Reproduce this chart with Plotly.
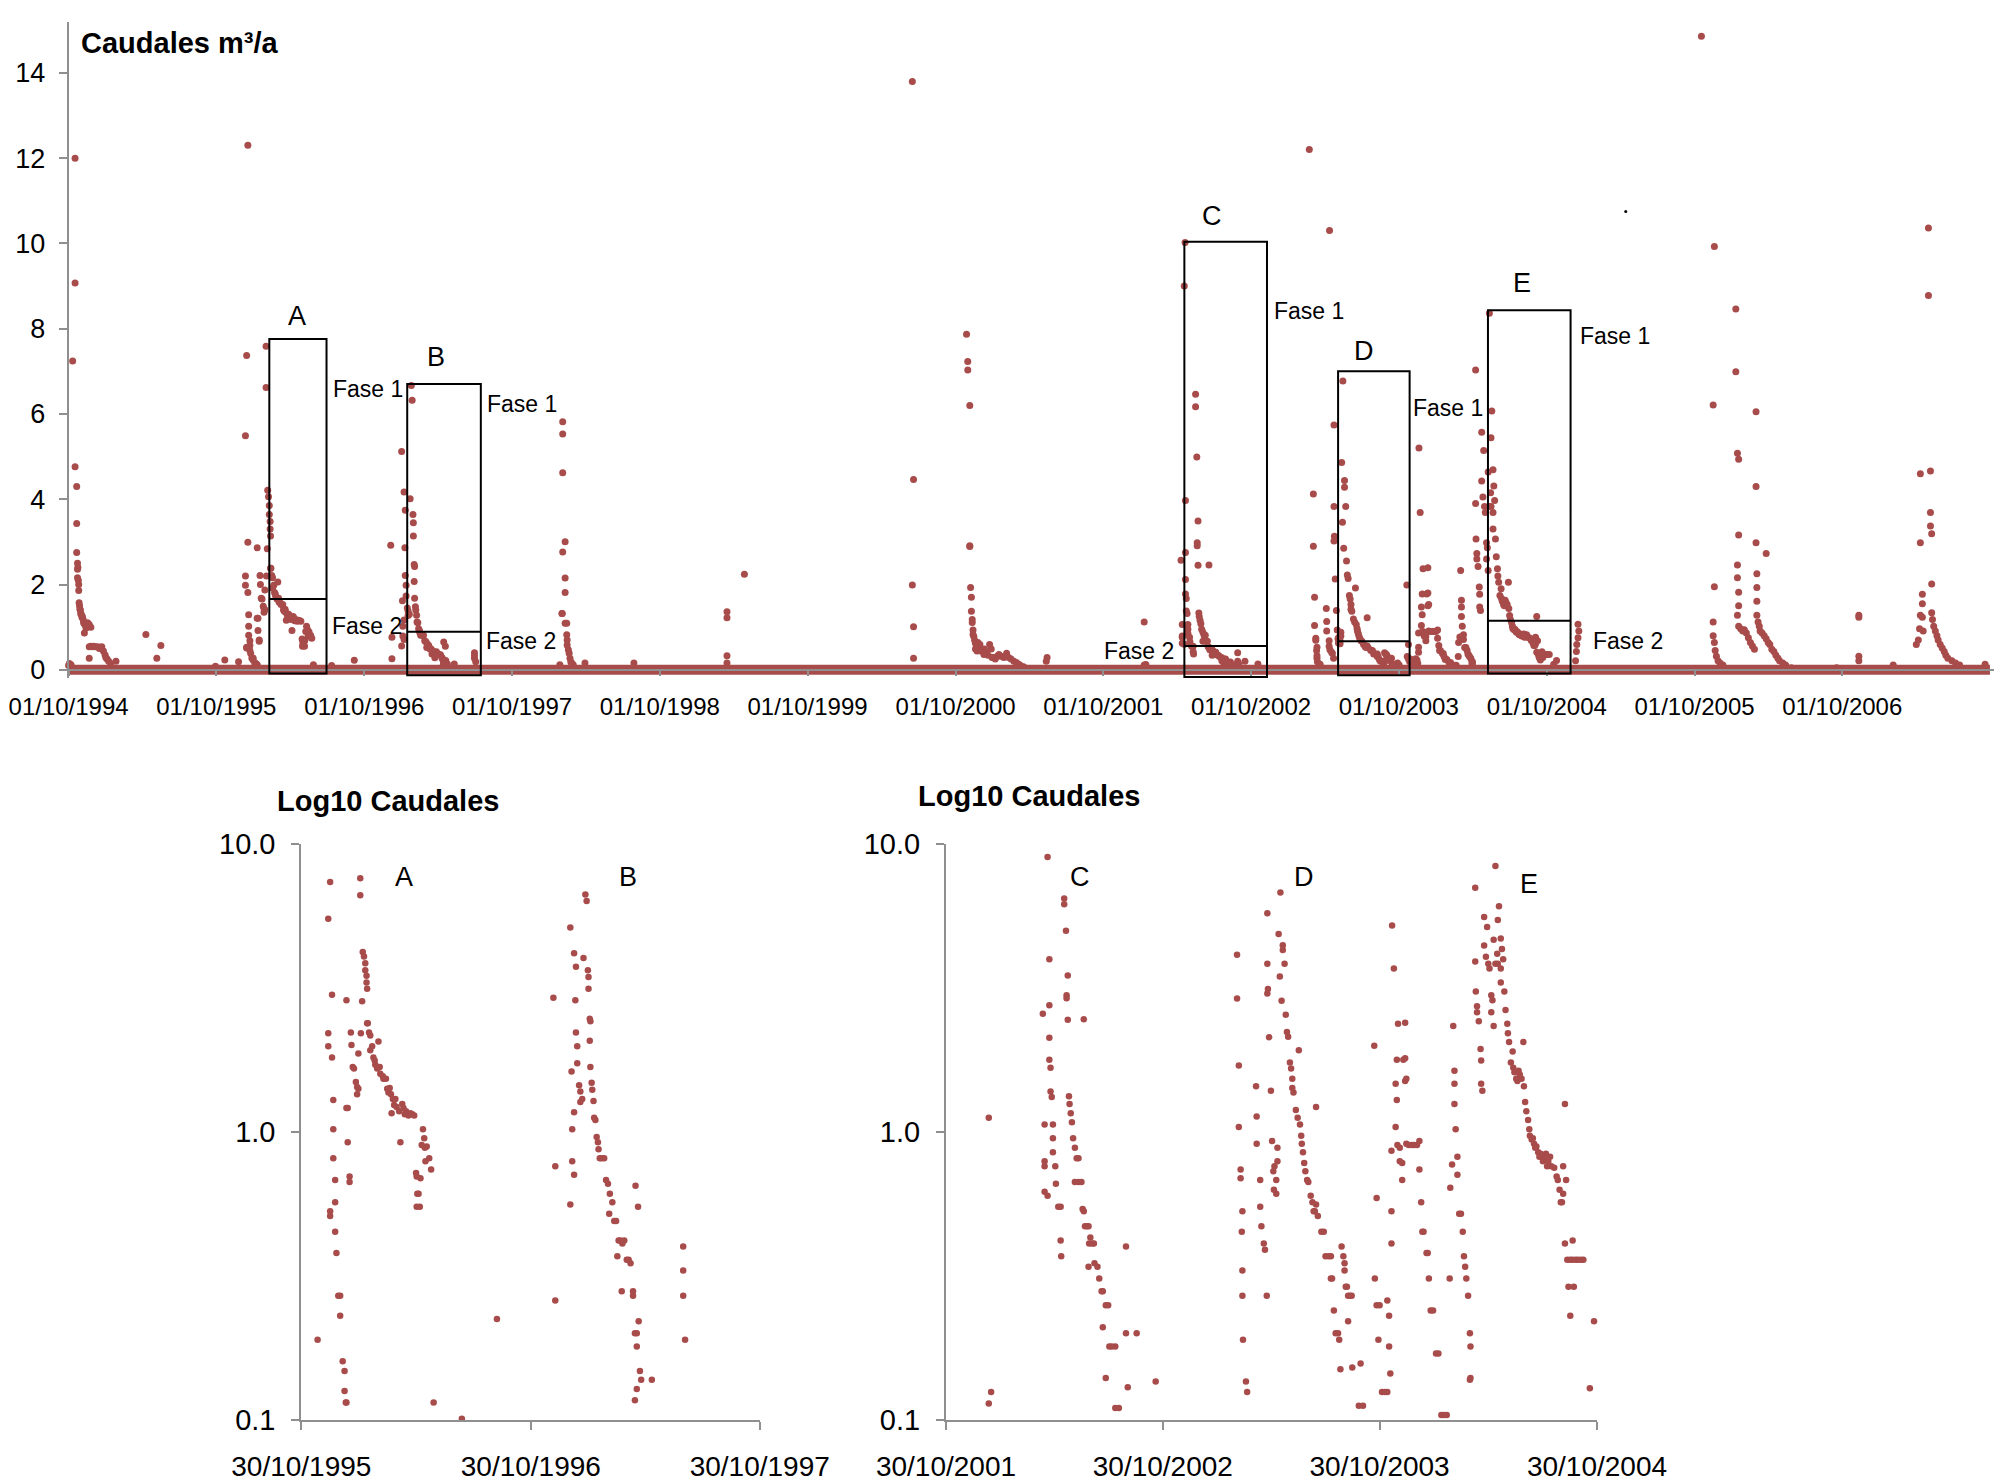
############################################################
# Caudales diarios 1994-2007 con recesiones A-E
############################################################
import math
import pandas as pd
import plotly.graph_objects as go

"""
SECTION 0: DATA (read from the figure)
days = days after the base date of each block, q = caudal
"""
# 1994-95 flood (base 1994-10-01)
ev94_days = [0, 2, 4, 6, 8, 10, 16, 16, 16, 20, 20, 20, 22, 22, 22, 23, 24, 25, 25, 26,
             27, 28, 29, 30, 31, 33, 34, 36, 37, 39, 39, 41, 43, 45, 47, 49, 51, 51, 55,
             51, 55, 59, 62, 66, 72, 76, 82, 86, 90, 92, 95, 99, 104, 117, 191, 218, 228,
             363, 386]
ev94_q = [0.10, 0.15, 0.08, 0.12, 0.06, 7.24, 12.0, 9.07, 4.76, 4.30, 3.43, 2.75, 2.50, 2.36,
          2.16, 2.40, 2.10, 2.00, 1.86, 1.57, 1.50, 1.42, 1.40, 1.32, 1.30, 1.23, 1.25, 1.18,
          1.10, 1.08, 0.86, 1.05, 0.98, 1.00, 1.10, 1.05, 1.06, 0.27, 1.00, 0.54, 0.55, 0.54,
          0.55, 0.54, 0.54, 0.50, 0.54, 0.44, 0.35, 0.29, 0.25, 0.20, 0.15, 0.20, 0.83, 0.27,
          0.57, 0.08, 0.23]

# events A and B (base 1995-10-30), also used by the lower-left panel
ab_days = [26, 46, 43, 49, 43, 43, 49, 51, 51, 51, 54, 54, 46, 46, 54, 56, 59, 62, 62, 66,
           69, 69, 71, 72, 72, 72, 74, 74, 77, 77, 79, 80, 82, 84, 87, 89, 91, 89, 91, 94,
           94, 95, 97, 98, 100, 102, 102, 104, 104, 105, 105, 106, 108, 110, 110, 113, 115,
           117, 118, 121, 123, 125, 126, 130, 131, 135, 137, 139, 141, 143, 146, 148, 144,
           150, 152, 156, 158, 161, 163, 165, 167, 171, 174, 177, 180, 183, 184, 185, 187,
           189, 184, 190, 192, 194, 196, 197, 198, 200, 204, 207, 211, 256, 312,
           402, 405, 405, 429, 431, 432, 432, 429, 435, 438, 437, 438, 440, 440, 435, 435,
           443, 445, 445, 448, 450, 453, 455, 457, 458, 458, 460, 461, 460, 461, 463, 464,
           466, 467, 469, 471, 473, 474, 476, 479, 483, 486, 489, 492, 491, 496, 499, 502,
           506, 509, 512, 515, 519, 522, 525, 504, 511, 529, 529, 532, 535, 535, 538, 540,
           535, 532, 542, 559, 533, 537, 609, 609, 609, 612]
ab_q = [0.19, 7.37, 5.49, 2.99, 2.20, 1.98, 1.81, 1.29, 1.02, 0.81, 0.68, 0.57, 0.53, 0.51,
        0.45, 0.38, 0.27, 0.27, 0.23, 0.16, 0.148, 0.126, 0.115, 0.115, 2.86, 1.21, 1.21,
        0.92, 0.70, 0.67, 2.21, 2.00, 1.68, 1.66, 1.49, 1.43, 1.41, 1.35, 1.87, 7.59, 6.62,
        2.20, 2.84, 4.21, 4.06, 3.85, 3.64, 3.48, 3.30, 3.14, 2.38, 2.38, 2.21, 2.16, 1.92,
        1.98, 1.81, 1.77, 1.71, 1.66, 2.06, 1.68, 1.59, 1.56, 1.53, 1.53, 1.41, 1.37, 1.42,
        1.35, 1.30, 1.24, 1.16, 1.30, 1.22, 1.18, 0.92, 1.25, 1.21, 1.15, 1.18, 1.14, 1.16,
        1.15, 1.14, 0.72, 0.70, 0.61, 0.61, 0.55, 0.55, 0.69, 0.90, 1.02, 0.95, 0.88, 0.79,
        0.89, 0.81, 0.74, 0.115, 0.101, 0.224,
        2.92, 0.76, 0.26, 5.12, 1.62, 1.02, 0.79, 0.56, 4.17, 3.74, 2.86, 2.21, 1.98, 1.73,
        1.17, 0.71, 1.45, 1.38, 1.27, 1.30, 4.01, 6.67, 6.32, 3.64, 3.45, 3.14, 2.47, 2.42,
        2.07, 1.68, 1.48, 1.40, 1.28, 1.12, 1.10, 0.96, 0.92, 0.87, 0.81, 0.81, 0.81, 0.68,
        0.66, 0.61, 0.52, 0.57, 0.49, 0.49, 0.42, 0.42, 0.41, 0.42, 0.36, 0.36, 0.35, 0.37,
        0.28, 0.28, 0.27, 0.20, 0.20, 0.18, 0.22, 0.148, 0.128, 0.117, 0.138, 0.138, 0.65,
        0.55, 0.40, 0.33, 0.27, 0.19]
# peak above the lower panel range (base 1995-10-30)
ab_top_days = [49]
ab_top_q = [12.3]

# 1997-99 (base 1997-10-01)
ev98_days = [118, 123, 124, 125, 125, 125, 125, 131, 131, 131, 131, 135, 135, 136, 136, 139,
             141, 143, 145, 147, 151, 180, 301, 531, 531, 531, 531, 574]
ev98_q = [0.12, 1.32, 1.32, 5.82, 5.53, 4.62, 2.76, 3.00, 2.15, 1.81, 1.09, 1.09, 0.82, 0.70,
          0.58, 0.47, 0.39, 0.27, 0.19, 0.16, 0.12, 0.16, 0.16, 1.36, 1.22, 0.33, 0.16, 2.24]

# 2000-01 (base 2000-10-01)
ev00_days = [-107, -104, -107, -104, -104, 27, 30, 30, 35, 35, 35, 37, 39, 39, 41, 41, 43, 43,
             45, 47, 49, 49, 52, 53, 55, 57, 60, 62, 66, 70, 71, 76, 80, 84, 88, 90, 94, 98,
             103, 107, 112, 119, 126, 131, 137, 144, 150, 156, 160, 168, 224, 226]
ev00_q = [13.8, 4.46, 1.99, 1.01, 0.27, 7.87, 7.23, 7.03, 6.20, 2.91, 2.89, 1.93, 1.70, 1.37,
          1.18, 1.11, 0.93, 0.83, 0.78, 0.69, 0.62, 0.49, 0.54, 0.44, 0.64, 0.52, 0.59, 0.44,
          0.46, 0.36, 0.49, 0.42, 0.34, 0.59, 0.49, 0.29, 0.29, 0.25, 0.32, 0.36, 0.32, 0.29,
          0.39, 0.29, 0.25, 0.20, 0.17, 0.13, 0.10, 0.07, 0.20, 0.29]

# events C, D and E (base 2001-10-30), also used by the lower-right panel
cde_days = [72, 76, 72, 163, 171, 174, 174, 174, 174, 176, 176, 178, 166, 166, 166, 166, 171,
            180, 180, 180, 184, 185, 189, 193, 193, 194, 199, 199, 202, 205, 203, 203, 205,
            207, 208, 210, 212, 214, 217, 220, 223, 217, 223, 228, 230, 232, 234, 237, 240,
            243, 241, 246, 249, 240, 250, 255, 258, 262, 264, 269, 273, 264, 275, 279, 285,
            269, 285, 291, 232, 303, 303, 306, 321, 353,
            490, 490, 493, 493, 496, 496, 499, 498, 499, 499, 500, 505, 507, 522, 523, 523,
            529, 529, 531, 535, 537, 540, 541, 541, 542, 541, 544, 547, 549, 551, 552, 553,
            556, 556, 558, 558, 560, 562, 565, 563, 567, 567, 570, 572, 574, 576, 579, 581,
            583, 583, 585, 589, 592, 594, 596, 598, 599, 601, 603, 605, 608, 610, 614, 617,
            619, 621, 623, 623, 626, 632, 636, 639, 644, 648, 648, 650, 653, 656, 660, 662,
            664, 666, 669, 671, 671, 673, 675, 677, 680, 683, 677, 684, 698, 695, 702,
            721, 725, 722, 725, 728, 730, 734, 739, 743, 743, 746, 746, 748, 750, 750, 750,
            751, 754, 757, 757, 759, 759, 761, 760, 764, 764, 768, 768, 770, 773, 773, 773,
            775, 775, 779, 784, 788, 793, 797, 797, 800, 802, 804, 809, 811, 813, 816, 820,
            825, 829, 834, 838, 843, 848, 849, 852, 854, 856, 856, 856, 858, 861, 861, 864,
            867, 870, 872, 874, 876, 879, 882, 883, 883, 882,
            891, 891, 892, 894, 894, 897, 900, 901, 901, 903, 906, 906, 909, 911, 913, 915,
            918, 918, 920, 922, 922, 925, 925, 928, 929, 929, 931, 934, 934, 934, 936, 938,
            940, 942, 945, 946, 948, 951, 954, 955, 957, 960, 962, 964, 966, 969, 972, 973,
            975, 977, 980, 982, 983, 986, 988, 990, 992, 994, 997, 999, 1001, 1005, 1007,
            1010, 1012, 1014, 1017, 1019, 1024, 1028, 1030, 1033, 1035, 1037, 1039, 1042,
            1044, 1039, 1042, 1046, 1051, 1055, 1060, 1064, 1069, 1073, 1055, 1048, 1057,
            1051, 1084, 1091]
cde_q = [1.12, 0.125, 0.114, 2.57, 9.00, 3.97, 2.75, 2.12, 1.78, 1.67, 1.38, 1.32, 1.06, 0.79,
         0.76, 0.62, 0.60, 1.06, 0.95, 0.85, 0.76, 0.66, 0.55, 0.55, 0.42, 0.37, 6.46, 6.17,
         4.99, 3.49, 2.98, 2.91, 2.45, 1.33, 1.25, 1.16, 1.08, 0.95, 0.88, 0.81, 0.81, 0.67,
         0.67, 0.67, 0.54, 0.53, 0.47, 0.47, 0.47, 0.43, 0.41, 0.41, 0.41, 0.34, 0.35, 0.34,
         0.31, 0.28, 0.28, 0.25, 0.25, 0.21, 0.18, 0.18, 0.18, 0.14, 0.11, 0.11, 2.46, 0.40,
         0.20, 0.13, 0.20, 0.136,
         4.12, 2.90, 1.70, 1.04, 0.74, 0.69, 0.53, 0.45, 0.33, 0.27, 0.19, 0.136, 0.125, 1.44,
         1.13, 0.91, 0.68, 0.55, 0.47, 0.41, 0.39, 0.27, 5.74, 3.83, 3.13, 3.02, 2.13, 1.39,
         0.93, 0.73, 0.63, 0.76, 0.68, 0.61, 0.79, 0.88, 4.86, 3.46, 2.85, 6.77, 4.44, 4.28,
         3.83, 2.55, 2.22, 2.14, 1.74, 1.66, 1.53, 1.42, 1.37, 1.19, 1.12, 1.92, 1.06, 0.97,
         0.91, 0.85, 0.78, 0.73, 0.68, 0.67, 0.60, 0.57, 0.53, 0.53, 0.56, 1.22, 0.51, 0.45,
         0.45, 0.37, 0.37, 0.37, 0.31, 0.31, 0.24, 0.20, 0.20, 0.19, 0.15, 0.40, 0.37, 0.35,
         0.33, 0.29, 0.29, 0.27, 0.27, 0.27, 0.22, 0.152, 0.157, 0.112, 0.112,
         1.99, 0.59, 0.31, 0.25, 0.19, 0.25, 0.125, 0.125, 0.125, 0.26, 0.23, 0.18, 0.145,
         0.53, 0.41, 0.86, 5.20, 3.69, 1.47, 1.04, 1.29, 1.78, 2.37, 0.90, 0.88, 0.79, 0.78,
         0.68, 1.78, 2.39, 1.50, 1.80, 1.53, 0.91, 0.90, 0.90, 0.90, 0.90, 0.93, 0.74, 0.57,
         0.45, 0.45, 0.38, 0.38, 0.31, 0.24, 0.24, 0.17, 0.17, 0.104, 0.104, 0.104, 0.31,
         0.64, 0.77, 2.33, 1.63, 1.47, 1.25, 1.02, 0.82, 0.71, 0.52, 0.52, 0.45, 0.37, 0.34,
         0.31, 0.27, 0.20, 0.18, 0.14, 0.138,
         7.03, 3.90, 3.07, 2.73, 2.60, 2.42, 1.94, 1.77, 1.47, 1.39, 5.57, 4.43, 4.05, 5.14,
         3.83, 3.69, 2.98, 2.60, 2.86, 2.33, 4.64, 8.36, 3.83, 4.15, 5.44, 3.83, 6.07, 3.69,
         3.30, 4.69, 4.31, 3.97, 3.07, 2.65, 2.37, 2.20, 2.05, 1.74, 1.90, 1.67, 1.61, 1.53,
         1.50, 1.63, 1.58, 1.53, 2.05, 1.44, 1.27, 1.18, 1.10, 1.02, 0.97, 0.94, 0.95, 0.91,
         0.88, 0.89, 0.85, 0.82, 0.84, 0.79, 0.81, 0.84, 0.76, 0.79, 0.82, 0.76, 0.75, 0.70,
         0.68, 0.63, 0.57, 0.57, 0.76, 1.25, 0.68, 0.61, 0.41, 0.36, 0.36, 0.36, 0.36, 0.36,
         0.36, 0.36, 0.42, 0.29, 0.29, 0.23, 0.129, 0.22]
# peaks above the lower panel range (base 2001-10-30)
cde_top_days = [173, 480, 530]
cde_top_q = [10.02, 12.2, 10.3]

# late 2004 - 2007 (base 2004-10-01)
ev05_days = [77, 79, 77, 74, 73, 71, 382, 414, 411, 414, 411, 411, 414, 416, 419, 423, 428, 435,
             467, 467, 471, 474, 474, 471, 471, 474, 474, 471, 474, 479, 484, 488, 493, 498,
             503, 508, 513, 517, 517, 517, 542, 519, 519, 519, 519, 522, 525, 527, 532, 537,
             542, 547, 551, 556, 561, 566, 571, 575, 583, 590, 604, 771, 771, 771, 771, 923,
             948, 943, 943, 923, 948, 948, 951, 951, 928, 928, 923, 928, 921, 930, 918, 913,
             951, 953, 956, 960, 964, 967, 972, 977, 982, 986, 991, 1001, 1010, 1020, 1083,
             856, 716]
ev05_q = [1.07, 0.91, 0.75, 0.59, 0.43, 0.21, 14.86, 9.93, 6.21, 1.95, 1.12, 0.80, 0.64, 0.45,
          0.32, 0.21, 0.16, 0.11, 8.46, 6.99, 5.08, 4.94, 3.16, 2.46, 2.16, 1.82, 1.50, 1.28,
          1.02, 0.96, 0.91, 0.94, 0.86, 0.75, 0.64, 0.56, 0.48, 6.05, 4.30, 2.98, 2.73, 2.25,
          1.93, 1.61, 1.28, 1.12, 1.02, 0.91, 0.86, 0.80, 0.73, 0.64, 0.59, 0.48, 0.43, 0.34,
          0.27, 0.21, 0.16, 0.11, 0.05, 1.28, 1.23, 0.32, 0.21, 4.60, 4.66, 10.36, 8.78, 2.98,
          3.69, 3.37, 3.19, 2.01, 1.77, 1.55, 1.28, 1.23, 0.96, 0.91, 0.70, 0.59, 1.34, 1.18,
          1.02, 0.91, 0.80, 0.70, 0.59, 0.51, 0.43, 0.34, 0.27, 0.21, 0.16, 0.11, 0.13, 0.11,
          0.05]

# zero-flow days form a continuous band on the time axis
baseline_dates = ["1994-10-01", "2007-10-01"]
baseline_q = [0, 0]

# stray black speck in the original figure
speck_dates = ["2005-04-14"]
speck_q = [10.75]

top_ticks = ["%d-10-01" % y for y in range(1994, 2007)]
top_ticktext = ["01/10/%d" % y for y in range(1994, 2007)]
left_ticks = ["1995-10-30", "1996-10-30", "1997-10-30"]
right_ticks = ["2001-10-30", "2002-10-30", "2003-10-30", "2004-10-30"]
log_ticks = [0.1, 1, 10]
log_ticktext = ["0.1", "1.0", "10.0"]

"""
SECTION 1: HELPERS
"""
W, H = 2016, 1483          # browser window
BODY = 8                   # default page margin around the plot div
FW, FH = W - 2 * BODY, H - BODY
DOT = "#A84C4B"
AXIS = "#8f8f8f"
FONT = "Liberation Sans, Arial, sans-serif"


def at(base, days):
    return pd.Timestamp(base) + pd.to_timedelta(days, unit="D")


def yr(f):
    # fraction of years after 01/10/1994 -> date (for placing boxes and labels)
    return pd.Timestamp("1994-10-01") + pd.Timedelta(days=f * 365.25)


# screen pixel -> paper fraction
def xp(x):
    return (x - BODY) / FW


def yp(y):
    return 1 - (y - BODY) / FH


"""
SECTION 2: SERIES
"""
ab = pd.DataFrame({"t": at("1995-10-30", ab_days), "q": ab_q})
cde = pd.DataFrame({"t": at("2001-10-30", cde_days), "q": cde_q})

top = pd.concat([
    pd.DataFrame({"t": at("1994-10-01", ev94_days), "q": ev94_q}),
    ab,
    pd.DataFrame({"t": at("1995-10-30", ab_top_days), "q": ab_top_q}),
    pd.DataFrame({"t": at("1997-10-01", ev98_days), "q": ev98_q}),
    pd.DataFrame({"t": at("2000-10-01", ev00_days), "q": ev00_q}),
    cde,
    pd.DataFrame({"t": at("2001-10-30", cde_top_days), "q": cde_top_q}),
    pd.DataFrame({"t": at("2004-10-01", ev05_days), "q": ev05_q}),
])


def window(df, start, end):
    m = (df.t >= start) & (df.t <= end) & (df.q >= 0.1) & (df.q <= 10)
    return df[m]


left = window(ab, "1995-10-30", "1997-10-30")
right = window(cde, "2001-10-30", "2004-10-30")

"""
SECTION 3: FIGURE
"""
fig = go.Figure()

fig.add_trace(go.Scatter(x=baseline_dates, y=baseline_q, mode="lines",
                         line=dict(color=DOT, width=10), cliponaxis=False,
                         xaxis="x", yaxis="y", hoverinfo="skip"))
fig.add_trace(go.Scatter(x=top.t, y=top.q, mode="markers", cliponaxis=False,
                         marker=dict(color=DOT, size=7), xaxis="x", yaxis="y"))
fig.add_trace(go.Scatter(x=speck_dates, y=speck_q, mode="markers", cliponaxis=False,
                         marker=dict(color="black", size=3), xaxis="x", yaxis="y"))
fig.add_trace(go.Scatter(x=left.t, y=left.q, mode="markers", cliponaxis=False,
                         marker=dict(color=DOT, size=6.5), xaxis="x2", yaxis="y2"))
fig.add_trace(go.Scatter(x=right.t, y=right.q, mode="markers", cliponaxis=False,
                         marker=dict(color=DOT, size=6.5), xaxis="x3", yaxis="y3"))

# boxes: (start, end, top, phase split, bottom) in years after 01/10/1994
boxes = {
    "A": (1.358, 1.745, 7.76, 1.66, -0.09),
    "B": (2.291, 2.789, 6.70, 0.89, -0.13),
    "C": (7.549, 8.108, 10.04, 0.56, -0.17),
    "D": (8.589, 9.073, 7.00, 0.67, -0.13),
    "E": (9.603, 10.162, 8.43, 1.15, -0.09),
}
for name, (f0, f1, ytop, ymid, ybot) in boxes.items():
    fig.add_shape(type="rect", xref="x", yref="y", x0=yr(f0), x1=yr(f1), y0=ybot, y1=ytop,
                  line=dict(color="black", width=2))
    fig.add_shape(type="line", xref="x", yref="y", x0=yr(f0), x1=yr(f1), y0=ymid, y1=ymid,
                  line=dict(color="black", width=2))

letters = {"A": (1.545, 8.3), "B": (2.483, 7.33), "C": (7.735, 10.64),
           "D": (8.765, 7.47), "E": (9.836, 9.07)}
for name, (f, y) in letters.items():
    fig.add_annotation(x=yr(f), y=y, xref="x", yref="y", text=name, showarrow=False,
                       font=dict(size=27, color="black", family=FONT))

fases = [("Fase 1", 1.775, 6.58, "left"), ("Fase 2", 1.766, 1.02, "left"),
         ("Fase 1", 2.818, 6.24, "left"), ("Fase 2", 2.812, 0.68, "left"),
         ("Fase 1", 8.140, 8.41, "left"), ("Fase 2", 7.490, 0.44, "right"),
         ("Fase 1", 9.082, 6.15, "left"), ("Fase 1", 10.212, 7.82, "left"),
         ("Fase 2", 10.300, 0.68, "left")]
for text, f, y, anchor in fases:
    fig.add_annotation(x=yr(f), y=y, xref="x", yref="y", text=text, showarrow=False,
                       xanchor=anchor, font=dict(size=23, color="black", family=FONT))

# letters in the log panels (annotation y on a log axis is given in log10 units)
low_letters = [("A", "1996-04-10", 7.65, "x2", "y2"), ("B", "1997-04-03", 7.65, "x2", "y2"),
               ("C", "2002-06-12", 7.65, "x3", "y3"), ("D", "2003-06-25", 7.65, "x3", "y3"),
               ("E", "2004-07-08", 7.25, "x3", "y3")]
for text, x, y, xr, yr_ in low_letters:
    fig.add_annotation(x=x, y=math.log10(y), xref=xr, yref=yr_, text=text, showarrow=False,
                       font=dict(size=27, color="black", family=FONT))

titles = [("Caudales m³/a", 79, 43), ("Log10 Caudales", 275, 801),
          ("Log10 Caudales", 916, 796)]
for text, x, y in titles:
    fig.add_annotation(x=xp(x), y=yp(y), xref="paper", yref="paper", text="<b>%s</b>" % text,
                       showarrow=False, xanchor="left", yanchor="middle",
                       font=dict(size=29, color="black", family=FONT))

# top panel (screen px): left 68.6, right 1994.4, top 21.7 (15.2), bottom 678.3 (-0.2)
top_dom_y = [yp(678.3), yp(21.7)]
y_zero = yp(669.8)
low_dom_y = [yp(1420), yp(843.7)]

axis_common = dict(showgrid=False, zeroline=False, showline=True, linecolor=AXIS,
                   linewidth=2, ticks="outside", tickcolor=AXIS, tickwidth=2,
                   automargin=False, ticklabeloverflow="allow")

fig.update_layout(
    width=FW, height=FH,
    margin=dict(l=0, r=0, t=0, b=0),
    paper_bgcolor="white", plot_bgcolor="white",
    showlegend=False,
    font=dict(family=FONT, color="black"),
    xaxis=dict(domain=[xp(68.6), xp(1994.4)], type="date",
               range=["1994-10-01", "2007-10-12"], anchor="free", position=y_zero,
               tickmode="array", tickvals=top_ticks, ticktext=top_ticktext,
               ticklen=5, ticklabelstandoff=10, tickfont=dict(size=24), **axis_common),
    yaxis=dict(domain=top_dom_y, range=[-0.2, 15.2], anchor="x",
               tickmode="array", tickvals=list(range(0, 15, 2)),
               ticklen=8, ticklabelstandoff=8, tickfont=dict(size=27), **axis_common),
    xaxis2=dict(domain=[xp(301.3), xp(759.7)], type="date", anchor="y2",
                range=["1995-10-30", "1997-10-30"],
                tickmode="array", tickvals=left_ticks,
                ticktext=[pd.Timestamp(t).strftime("%d/%m/%Y") for t in left_ticks],
                ticklen=8, ticklabelstandoff=12, tickfont=dict(size=28), **axis_common),
    yaxis2=dict(domain=low_dom_y, type="log", range=[-1, 1], anchor="x2",
                tickmode="array", tickvals=log_ticks, ticktext=log_ticktext,
                ticklen=8, ticklabelstandoff=10, tickfont=dict(size=29), **axis_common),
    xaxis3=dict(domain=[xp(946), xp(1597)], type="date", anchor="y3",
                range=["2001-10-30", "2004-10-30"],
                tickmode="array", tickvals=right_ticks,
                ticktext=[pd.Timestamp(t).strftime("%d/%m/%Y") for t in right_ticks],
                ticklen=8, ticklabelstandoff=12, tickfont=dict(size=28), **axis_common),
    yaxis3=dict(domain=low_dom_y, type="log", range=[-1, 1], anchor="x3",
                tickmode="array", tickvals=log_ticks, ticktext=log_ticktext,
                ticklen=8, ticklabelstandoff=10, tickfont=dict(size=29), **axis_common),
)

fig.write_html("out.html")
